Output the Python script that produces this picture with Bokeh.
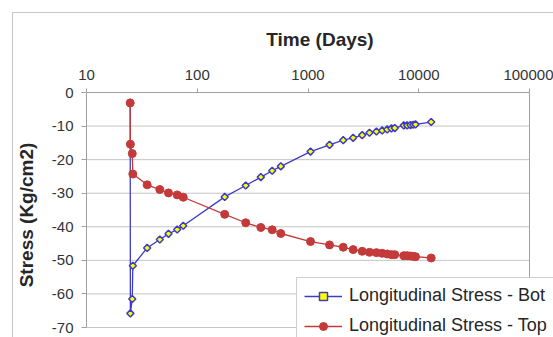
import numpy as np
from bokeh.plotting import figure
from bokeh.models import (FixedTicker, PrintfTickFormatter, Legend, LegendItem, Range1d)
from bokeh.embed import file_html
from bokeh.resources import INLINE

# ---- data ----
days = [24.8, 24.9, 25.9, 26.2, 35.3, 45.9, 55, 65.9, 74.7, 177, 274, 375, 475, 568,
        1054, 1565, 2080, 2557, 3085, 3590, 4150, 4675, 5190, 5670, 6075, 7330, 7860,
        8420, 8910, 9350, 12950]
stress_bot = [-3.1, -65.8, -61.5, -51.6, -46.3, -43.8, -42.1, -40.8, -39.7, -31.1, -27.7,
              -25.2, -23.3, -22.0, -17.6, -15.6, -14.2, -13.5, -12.7, -12.0, -11.6, -11.3,
              -11.0, -10.7, -10.6, -9.8, -9.8, -9.7, -9.6, -9.5, -8.8]
stress_top = [-3.1, -15.4, -18.2, -24.3, -27.5, -28.9, -29.9, -30.5, -31.2, -36.3, -38.8,
              -40.2, -40.9, -42.0, -44.4, -45.4, -46.1, -46.8, -47.3, -47.6, -47.7, -47.9,
              -48.1, -48.3, -48.3, -48.6, -48.6, -48.7, -48.8, -48.9, -49.3]
x_ticks = [10, 100, 1000, 10000, 100000]
y_ticks = [-70, -60, -50, -40, -30, -20, -10, 0]
series_names = ["Longitudinal Stress - Bot", "Longitudinal Stress - Top"]

BLUE = "#3c3cc4"
RED = "#c43a3a"
GRID = "#c4c4c4"
AXIS = "#a0a0a0"
FRAME = "#c8c8c8"
FONT = "Liberation Sans"

W, H = 553, 337
LEFT, TOP = 86, 92          # frame origin (px)
X_AXIS_END_PX = 529         # where 100000 sits
Y_AXIS_END_PX = 327         # where -70 sits
decade_px = (X_AXIS_END_PX - LEFT) / (np.log10(x_ticks[-1]) - np.log10(x_ticks[0]))
x_end = 10 ** (np.log10(x_ticks[-1]) + (W - X_AXIS_END_PX) / decade_px)
unit_px = (Y_AXIS_END_PX - TOP) / (y_ticks[-1] - y_ticks[0])
y_start = y_ticks[0] - (H - Y_AXIS_END_PX) / unit_px

p = figure(width=W, height=H, x_axis_type="log", x_axis_location="above",
           x_range=Range1d(x_ticks[0], x_end), y_range=Range1d(y_start, y_ticks[-1]),
           output_backend="svg", toolbar_location=None,
           min_border_left=LEFT, min_border_top=TOP, min_border_right=0, min_border_bottom=0)
p.background_fill_color = "white"
p.border_fill_alpha = 0
p.outline_line_color = None
p.xgrid.visible = False
p.ygrid.visible = False
# thin outer chart border (top and left edges, the rest runs off the picture)
p.styles = {
    "background-color": "white",
    "background-image": f"linear-gradient({FRAME}, {FRAME}), linear-gradient({FRAME}, {FRAME})",
    "background-position": "12px 12px, 12px 12px",
    "background-size": "1px 100%, 100% 1px",
    "background-repeat": "no-repeat, no-repeat",
}

xa = p.xaxis[0]
xa.bounds = (x_ticks[0], x_ticks[-1])
xa.ticker = FixedTicker(ticks=x_ticks, minor_ticks=[])
xa.formatter = PrintfTickFormatter(format="%d")
xa.axis_label = "Time (Days)"
xa.axis_label_text_font = FONT
xa.axis_label_text_font_style = "bold"
xa.axis_label_text_font_size = "19px"
xa.axis_label_text_color = "#262626"
xa.axis_label_standoff = 17
xa.major_label_text_font = FONT
xa.major_label_text_font_size = "15px"
xa.major_label_text_color = "#333333"
xa.major_label_standoff = 9
xa.major_tick_out = 4
xa.major_tick_in = 0
xa.minor_tick_out = 0
xa.minor_tick_in = 0
xa.axis_line_color = AXIS
xa.major_tick_line_color = AXIS

ya = p.yaxis[0]
ya.bounds = (y_ticks[0], y_ticks[-1])
ya.ticker = FixedTicker(ticks=y_ticks, minor_ticks=[])
ya.formatter = PrintfTickFormatter(format="%d")
ya.axis_label = "Stress (Kg/cm2)"
ya.axis_label_text_font = FONT
ya.axis_label_text_font_style = "bold"
ya.axis_label_text_font_size = "19px"
ya.axis_label_text_color = "#262626"
ya.axis_label_standoff = 12
ya.major_label_text_font = FONT
ya.major_label_text_font_size = "15px"
ya.major_label_text_color = "#333333"
ya.major_label_standoff = 8
ya.major_tick_out = 5
ya.major_tick_in = 0
ya.minor_tick_out = 0
ya.minor_tick_in = 0
ya.axis_line_color = AXIS
ya.major_tick_line_color = AXIS

# horizontal gridlines and right border of the plot area, bounded to the axes
p.segment(x0=x_ticks[0], x1=x_ticks[-1], y0=y_ticks, y1=y_ticks,
          line_color=GRID, line_width=1, level="underlay")
p.segment(x0=x_ticks[-1], x1=x_ticks[-1], y0=y_ticks[0], y1=y_ticks[-1],
          line_color=AXIS, line_width=1, level="underlay")

bl = p.line(days, stress_bot, line_color=BLUE, line_width=1.3)
bs = p.scatter(days, stress_bot, marker="square", angle=np.pi / 4, size=5,
               fill_color="#ffff00", line_color=BLUE, line_width=1.5)
rl = p.line(days, stress_top, line_color=RED, line_width=1.3)
rs = p.scatter(days, stress_top, marker="circle", size=8, fill_color=RED, line_color=RED)

legend = Legend(items=[LegendItem(label=series_names[0], renderers=[bl, bs]),
                       LegendItem(label=series_names[1], renderers=[rl, rs])],
                location=(296 - LEFT, -7), padding=7, spacing=9, glyph_width=38,
                glyph_height=20, label_height=20, label_standoff=7, label_text_font=FONT,
                label_text_font_size="18px", label_text_color="#262626",
                border_line_color=AXIS, border_line_width=1,
                background_fill_color="white", background_fill_alpha=1.0, margin=0)
p.add_layout(legend)

open("out.html", "w").write(file_html(p, INLINE))
